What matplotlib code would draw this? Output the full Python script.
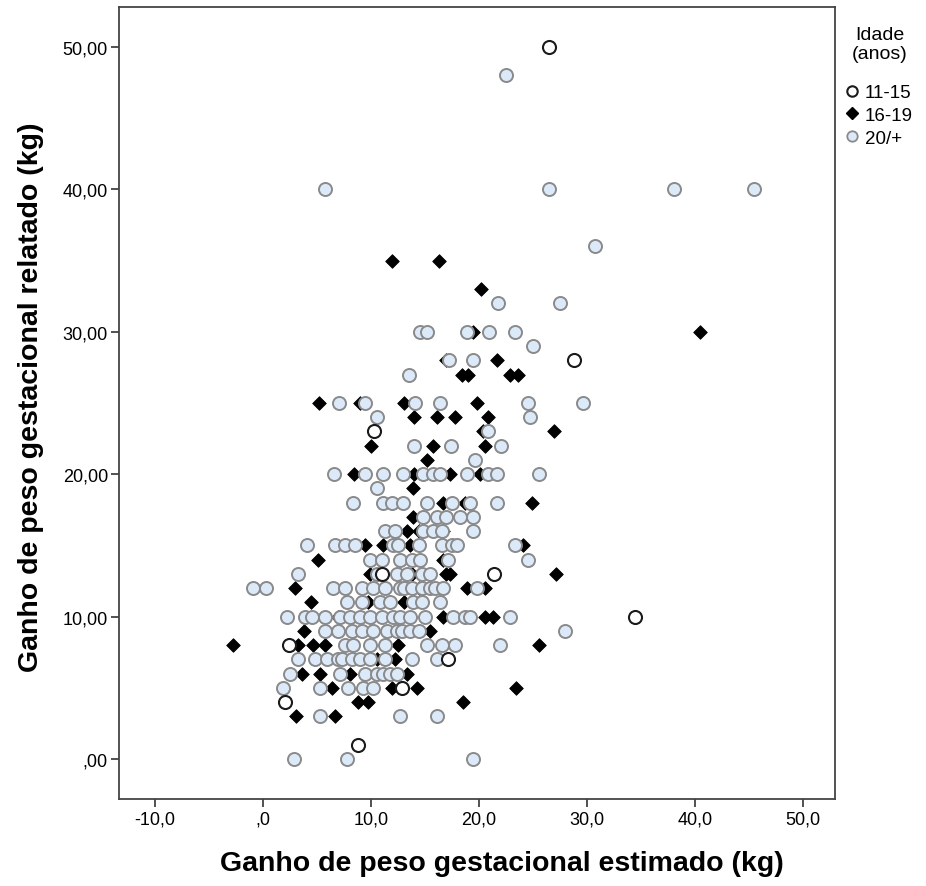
import matplotlib
matplotlib.use("Agg")
import matplotlib.pyplot as plt
from matplotlib.lines import Line2D

plt.rcParams['font.family'] = ['Liberation Sans', 'DejaVu Sans']

# 11-15 anos (open circles)
x_1115 = [26.5, 28.8, 10.3, 11.0, 21.4, 34.4, 2.4, 17.1, 12.9, 2.0, 8.8]
y_1115 = [50, 28, 23, 13, 13, 10, 8, 7, 5, 4, 1]

# 16-19 anos (diamonds)
x_1619 = [11.9, 16.3, 20.2, 19.4, 40.5, 21.7, 16.9, 18.4, 19.0, 22.9, 23.6,
          5.2, 9.0, 13.1, 19.8, 14.0, 16.1, 17.8, 20.8, 20.4, 26.9,
          10.0, 15.7, 20.6, 15.2, 8.4, 14.0, 17.3, 20.1, 13.9,
          16.7, 18.7, 24.9, 13.9, 13.3, 14.4, 16.7, 9.4, 11.1, 13.6, 24.1,
          5.1, 16.7, 9.9, 13.8, 16.9, 17.3, 27.1, 3.0, 14.4, 18.9, 20.6,
          4.4, 9.7, 13.1, 6.9, 16.7, 20.6, 21.3, 3.8, 15.5,
          -2.8, 3.2, 4.6, 5.7, 12.5, 25.6, 10.6, 12.2,
          3.6, 5.3, 8.1, 13.3, 6.4, 11.9, 14.3, 23.4,
          8.8, 9.7, 18.5, 3.1, 6.7]
y_1619 = [35, 35, 33, 30, 30, 28, 28, 27, 27, 27, 27,
          25, 25, 25, 25, 24, 24, 24, 24, 23, 23,
          22, 22, 22, 21, 20, 20, 20, 20, 19,
          18, 18, 18, 17, 16, 16, 16, 15, 15, 15, 15,
          14, 14, 13, 13, 13, 13, 13, 12, 12, 12, 12,
          11, 11, 11, 10, 10, 10, 10, 9, 9,
          8, 8, 8, 8, 8, 8, 7, 7,
          6, 6, 6, 6, 5, 5, 5, 5,
          4, 4, 4, 3, 3]

# 20/+ anos (light circles)
x_20 = [22.5, 5.7, 26.5, 38.1, 45.5, 30.7, 21.8, 27.5,
        14.5, 15.2, 18.9, 20.9, 23.3, 25.0, 17.2, 19.4, 13.5,
        7.0, 9.4, 14.1, 16.4, 24.5, 29.6, 10.6, 24.7, 20.8,
        14.0, 17.4, 22.0, 19.6,
        6.6, 9.4, 11.1, 13.0, 14.8, 15.7, 16.4, 18.9, 20.8, 21.7, 25.6,
        10.6,
        8.3, 11.1, 11.9, 13.0, 15.2, 17.5, 19.2, 21.7,
        14.8, 16.1, 16.9, 18.2, 19.4,
        11.3, 12.2, 14.8, 15.7, 16.6, 19.4,
        4.1, 6.7, 7.6, 8.5, 12.0, 12.5, 14.4, 16.6, 17.5, 18.0, 23.3,
        9.9, 11.0, 12.7, 13.8, 14.5, 17.1, 24.5,
        3.2, 10.6, 12.4, 13.3, 14.7, 15.5,
        -0.9, 0.3, 6.5, 7.6, 9.2, 10.2, 11.3, 12.7, 13.1, 13.8, 14.7, 15.5, 15.9, 16.7, 19.8,
        7.8, 9.2, 10.8, 11.8, 13.9, 14.7, 16.4,
        2.2, 3.9, 4.5, 5.7, 7.1, 8.1, 9.0, 9.9, 11.0, 12.0, 12.7, 13.6, 15.0, 17.6, 18.7, 19.2, 22.9,
        5.7, 6.9, 8.2, 9.2, 10.2, 11.5, 12.4, 12.9, 13.6, 14.4, 28.0,
        7.6, 8.3, 9.9, 11.3, 15.2, 16.6, 17.8, 21.9,
        3.2, 4.8, 5.9, 6.9, 7.3, 8.2, 9.0, 9.9, 11.3, 13.8, 16.1,
        2.5, 7.1, 9.4, 10.6, 11.1, 11.8, 12.4,
        1.9, 5.3, 7.9, 9.3, 10.2,
        5.3, 12.7, 16.1,
        2.9, 7.8, 19.4]
y_20 = [48, 40, 40, 40, 40, 36, 32, 32,
        30, 30, 30, 30, 30, 29, 28, 28, 27,
        25, 25, 25, 25, 25, 25, 24, 24, 23,
        22, 22, 22, 21,
        20, 20, 20, 20, 20, 20, 20, 20, 20, 20, 20,
        19,
        18, 18, 18, 18, 18, 18, 18, 18,
        17, 17, 17, 17, 17,
        16, 16, 16, 16, 16, 16,
        15, 15, 15, 15, 15, 15, 15, 15, 15, 15, 15,
        14, 14, 14, 14, 14, 14, 14,
        13, 13, 13, 13, 13, 13,
        12, 12, 12, 12, 12, 12, 12, 12, 12, 12, 12, 12, 12, 12, 12,
        11, 11, 11, 11, 11, 11, 11,
        10, 10, 10, 10, 10, 10, 10, 10, 10, 10, 10, 10, 10, 10, 10, 10, 10,
        9, 9, 9, 9, 9, 9, 9, 9, 9, 9, 9,
        8, 8, 8, 8, 8, 8, 8, 8,
        7, 7, 7, 7, 7, 7, 7, 7, 7, 7, 7,
        6, 6, 6, 6, 6, 6, 6,
        5, 5, 5, 5, 5,
        3, 3, 3,
        0, 0, 0]

x_ticks = [-10, 0, 10, 20, 30, 40, 50]
x_ticklabels = ['-10,0', ',0', '10,0', '20,0', '30,0', '40,0', '50,0']
y_ticks = [0, 10, 20, 30, 40, 50]
y_ticklabels = [',00', '10,00', '20,00', '30,00', '40,00', '50,00']
groups = ['11-15', '16-19', '20/+']

light = '#dce9f8'
fig = plt.figure(figsize=(9.26, 8.87), dpi=100)
ax = fig.add_axes([119/926, 1 - 800/887, 716/926, 792/887])

ax.scatter(x_1619, y_1619, marker='D', s=48, c='black', edgecolors='black',
           linewidths=0.6, zorder=2)
ax.scatter(x_20, y_20, marker='o', s=88, c=light, edgecolors='#8a8a8a',
           linewidths=1.4, zorder=3)
ax.scatter(x_1115, y_1115, marker='o', s=88, c='white', edgecolors='#1a1a1a',
           linewidths=1.5, zorder=4)

ax.set_xlim(-13.33, 52.96)
ax.set_ylim(-2.8, 52.8)
ax.set_xticks(x_ticks)
ax.set_xticklabels(x_ticklabels)
ax.set_yticks(y_ticks)
ax.set_yticklabels(y_ticklabels)
ax.tick_params(direction='out', length=6, width=1.2, colors='#333333',
               labelsize=13, labelcolor='black', pad=2)
for sp in ax.spines.values():
    sp.set_color('#444444')
    sp.set_linewidth(1.3)

label_font = dict(fontweight='bold', fontsize=20.5)
ax.set_xlabel('Ganho de peso gestacional estimado (kg)', **label_font)
ax.set_ylabel('Ganho de peso gestacional relatado (kg)', **label_font)
ax.xaxis.set_label_coords(0.535, -0.064)
ax.yaxis.set_label_coords(-0.105, 0.508)

# legend title drawn separately to keep the SPSS spacing
fig.text(880/926, 1 - 45/887, 'Idade\n(anos)', ha='center', va='center',
         fontsize=14, linespacing=1.2)
handles = [
    Line2D([], [], marker='o', ls='', ms=7.5, mfc='white', mec='#1a1a1a', mew=1.5),
    Line2D([], [], marker='D', ls='', ms=6.5, mfc='black', mec='black'),
    Line2D([], [], marker='o', ls='', ms=7.5, mfc=light, mec='#8a8a8a', mew=1.3),
]
fig.legend(handles, groups, loc='upper left',
           bbox_to_anchor=(844/926, 1 - 85/887),
           frameon=False, fontsize=13.5, handletextpad=0.2,
           handlelength=0.9, labelspacing=0.3, borderaxespad=0,
           borderpad=0)

fig.savefig('out.png', dpi=100)
